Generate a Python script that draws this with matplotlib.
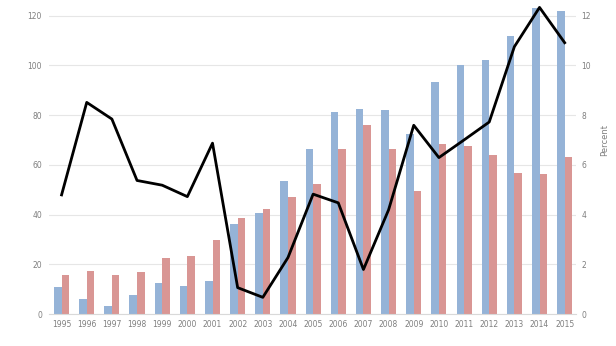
import numpy as np
import matplotlib.pyplot as plt

years = [str(y) for y in range(1995, 2016)]
blue_vals = [10.7, 6.0, 3.2, 7.6, 12.4, 11.4, 13.2, 36.1, 40.7, 53.4, 66.3,
             81.1, 82.6, 82.0, 72.5, 93.3, 100.1, 102.3, 111.6, 122.9, 121.8]
red_vals = [15.8, 17.4, 15.7, 16.9, 22.6, 23.3, 29.6, 38.8, 42.4, 47.2, 52.3,
            66.3, 76.1, 66.4, 49.4, 68.5, 67.7, 64.0, 56.9, 56.5, 63.3]
pct_vals = [4.79, 8.51, 7.84, 5.37, 5.18, 4.72, 6.87, 1.06, 0.67, 2.27, 4.82,
            4.47, 1.79, 4.19, 7.59, 6.29, 7.0, 7.72, 10.75, 12.33, 10.91]

grey = "#7f7f7f"
fig = plt.figure(figsize=(6.16, 3.46), dpi=100)
ax = fig.add_axes([49/616, 1 - 314/346, (576 - 49)/616, 314/346 - 0.002])

x = np.arange(len(years))
w = 0.3
ax.bar(x - w/2, blue_vals, w, color="#95B3D7", zorder=2)
ax.bar(x + w/2, red_vals, w, color="#D99694", zorder=2)

ax.set_xlim(-0.5, 20.45)
ax.set_ylim(0, 126)
ax.set_yticks(range(0, 121, 20))
ax.set_xticks(x)
ax.set_xticklabels(years)
ax.grid(axis="y", color="#e6e6e6", lw=0.8, zorder=0)
for s in ["top", "right", "left"]:
    ax.spines[s].set_visible(False)
ax.spines["bottom"].set_color("#d9d9d9")
ax.tick_params(length=0, labelsize=5.5, labelcolor=grey, pad=4)
ax.tick_params(axis="y", pad=5)

ax2 = ax.twinx()
ax2.plot(x, pct_vals, color="black", lw=2, zorder=3)
ax2.set_ylim(0, 12.6)
ax2.set_yticks(range(0, 13, 2))
for s in ax2.spines.values():
    s.set_visible(False)
ax2.tick_params(length=0, labelsize=5.5, labelcolor=grey, pad=4)
ax2.set_ylabel("Percent", fontsize=6, color=grey)
ax2.yaxis.set_label_coords(1.045, 0.555)

fig.savefig("out.png", dpi=100)
